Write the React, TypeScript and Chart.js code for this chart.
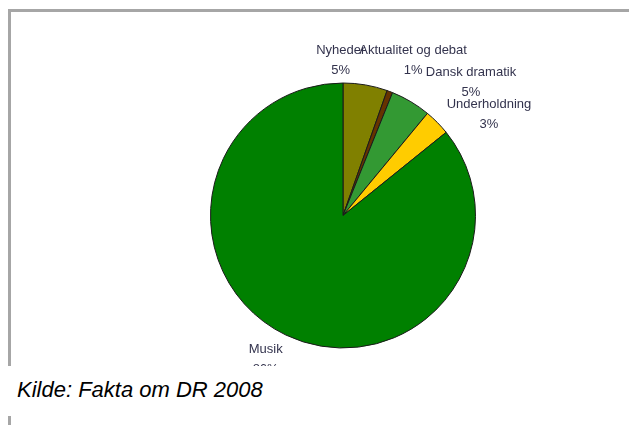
import React, { useEffect, useRef } from "react";
import { Chart, registerables } from "chart.js";

Chart.register(...registerables);

const categories = ["Nyheder", "Aktualitet og debat", "Dansk dramatik", "Underholdning", "Musik"];
const shares = [5.4, 0.7, 4.9, 3.2, 85.8];
const sliceColors = ["#808000", "#663300", "#339933", "#FFCC00", "#008000"];
const caption = "Kilde: Fakta om DR 2008";

const labelNudges = [
  [-31, 12],
  [10, 4],
  [41, 13],
  [25, 18],
  [-4, -9],
];

const pieLabels = {
  id: "pieLabels",
  afterDatasetsDraw(chart: any) {
    const ctx = chart.ctx;
    const meta = chart.getDatasetMeta(0);
    const data = chart.data.datasets[0].data as number[];
    const total = data.reduce((a, b) => a + b, 0);
    ctx.save();
    ctx.font = '13px "Liberation Sans", Arial, sans-serif';
    ctx.fillStyle = "#33334d";
    ctx.textAlign = "center";
    ctx.textBaseline = "middle";
    meta.data.forEach((arc: any, i: number) => {
      const p = arc.getProps(["startAngle", "endAngle", "outerRadius", "x", "y"], true);
      const mid = (p.startAngle + p.endAngle) / 2;
      const r = p.outerRadius + 37.5;
      const nx = labelNudges[i] ? labelNudges[i][0] : 0;
      const ny = labelNudges[i] ? labelNudges[i][1] : 0;
      const lx = p.x + Math.cos(mid) * r + nx;
      const ly = p.y + Math.sin(mid) * r + ny;
      const pct = Math.round((data[i] / total) * 100) + "%";
      ctx.fillText(chart.data.labels[i], lx, ly - 10);
      ctx.fillText(pct, lx, ly + 10);
    });
    ctx.restore();
  },
};

export default function App() {
  const canvasRef = useRef<HTMLCanvasElement>(null);

  useEffect(() => {
    if (!canvasRef.current) return;
    const chart = new Chart(canvasRef.current, {
      type: "pie",
      data: {
        labels: categories,
        datasets: [
          {
            data: shares,
            backgroundColor: sliceColors,
            borderColor: "#1a1a1a",
            borderWidth: 1,
          },
        ],
      },
      options: {
        responsive: false,
        animation: false,
        events: [],
        layout: { padding: { left: 199, top: 70.5, right: 161, bottom: 17.5 } },
        plugins: {
          legend: { display: false },
          tooltip: { enabled: false },
        },
      },
      plugins: [pieLabels],
    });
    return () => chart.destroy();
  }, []);

  return (
    <div style={{ position: "relative", width: 621, height: 417 }}>
      <div
        style={{
          position: "absolute",
          left: 0,
          top: 1,
          width: 629,
          height: 357,
          boxSizing: "border-box",
          borderTop: "3px solid #a6a6a6",
          borderLeft: "3px solid #a6a6a6",
          overflow: "hidden",
          background: "#fff",
        }}
      >
        <canvas ref={canvasRef} width={626} height={354} style={{ display: "block", width: 626, height: 354 }} />
      </div>
      <div
        style={{
          position: "absolute",
          left: 9,
          top: 371.4,
          font: 'italic 22px "Liberation Sans", Arial, sans-serif',
          lineHeight: 1,
          color: "#000",
          whiteSpace: "nowrap",
        }}
      >
        {caption}
      </div>
      <div
        style={{
          position: "absolute",
          left: 0,
          top: 408,
          width: 3,
          height: 17,
          background: "#a6a6a6",
        }}
      />
    </div>
  );
}
